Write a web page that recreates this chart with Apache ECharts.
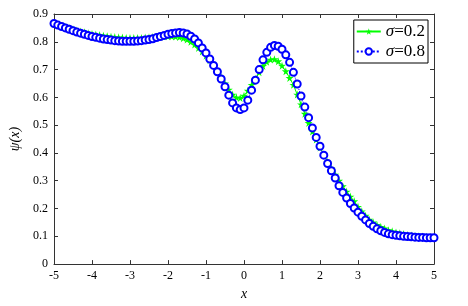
<!DOCTYPE html>
<html>
<head>
<meta charset="utf-8">
<script src="https://cdn.jsdelivr.net/npm/echarts@6/dist/echarts.min.js"></script>
<style>html,body{margin:0;padding:0;background:#fff;}#c{width:468px;height:306px;}</style>
</head>
<body>
<div id="c"></div>
<script>
const xValues = [-5.0,-4.9,-4.8,-4.7,-4.6,-4.5,-4.4,-4.3,-4.2,-4.1,-4.0,-3.9,-3.8,-3.7,-3.6,-3.5,-3.4,-3.3,-3.2,-3.1,-3.0,-2.9,-2.8,-2.7,-2.6,-2.5,-2.4,-2.3,-2.2,-2.1,-2.0,-1.9,-1.8,-1.7,-1.6,-1.5,-1.4,-1.3,-1.2,-1.1,-1.0,-0.9,-0.8,-0.7,-0.6,-0.5,-0.4,-0.3,-0.2,-0.1,0.0,0.1,0.2,0.3,0.4,0.5,0.6,0.7,0.8,0.9,1.0,1.1,1.2,1.3,1.4,1.5,1.6,1.7,1.8,1.9,2.0,2.1,2.2,2.3,2.4,2.5,2.6,2.7,2.8,2.9,3.0,3.1,3.2,3.3,3.4,3.5,3.6,3.7,3.8,3.9,4.0,4.1,4.2,4.3,4.4,4.5,4.6,4.7,4.8,4.9,5.0];
const sigma02 = [0.866,0.861,0.857,0.853,0.849,0.845,0.841,0.837,0.834,0.831,0.828,0.826,0.824,0.822,0.820,0.818,0.817,0.816,0.815,0.814,0.814,0.814,0.814,0.814,0.815,0.816,0.817,0.818,0.819,0.820,0.820,0.820,0.819,0.817,0.813,0.808,0.800,0.790,0.778,0.765,0.750,0.734,0.715,0.694,0.672,0.650,0.628,0.610,0.600,0.598,0.606,0.624,0.645,0.666,0.690,0.713,0.728,0.736,0.737,0.730,0.714,0.694,0.670,0.645,0.610,0.575,0.541,0.508,0.477,0.448,0.420,0.394,0.368,0.344,0.322,0.300,0.280,0.261,0.243,0.226,0.206,0.190,0.174,0.160,0.150,0.141,0.134,0.128,0.122,0.118,0.114,0.111,0.108,0.105,0.103,0.101,0.100,0.099,0.098,0.097,0.096];
const sigma08 = [0.866,0.860,0.855,0.850,0.845,0.840,0.835,0.831,0.827,0.823,0.819,0.816,0.813,0.810,0.808,0.806,0.804,0.803,0.802,0.802,0.802,0.802,0.803,0.804,0.806,0.808,0.811,0.815,0.819,0.823,0.827,0.830,0.832,0.833,0.832,0.828,0.820,0.810,0.796,0.778,0.760,0.738,0.715,0.692,0.666,0.638,0.608,0.580,0.562,0.556,0.562,0.590,0.626,0.662,0.700,0.735,0.762,0.780,0.787,0.784,0.773,0.753,0.726,0.690,0.648,0.605,0.565,0.527,0.490,0.456,0.424,0.392,0.362,0.336,0.310,0.282,0.258,0.238,0.218,0.202,0.187,0.172,0.159,0.146,0.136,0.127,0.120,0.114,0.109,0.106,0.104,0.102,0.100,0.099,0.098,0.097,0.096,0.096,0.095,0.095,0.095];
const seriesNames = ['σ=0.2', 'σ=0.8'];

const star = 'path://M50,0 L61,35 L98,35 L68,57 L79,91 L50,70 L21,91 L32,57 L2,35 L39,35 Z';
const font = 'Liberation Serif';
const axisColor = '#333';
const green = '#00ff00';
const blue = '#0000ff';

const chart = echarts.init(document.getElementById('c'), null, {renderer: 'canvas'});
const pair = ys => xValues.map((x, i) => [x, ys[i]]);

chart.setOption({
  animation: false,
  backgroundColor: '#fff',
  grid: {left: 50, right: 34, top: 14, bottom: 35},
  legend: {
    orient: 'vertical',
    right: 40, top: 20,
    padding: [3, 3, 3, 2],
    itemGap: 3,
    itemWidth: 24, itemHeight: 8,
    borderColor: '#000', borderWidth: 1, borderRadius: 0,
    backgroundColor: '#fff',
    data: seriesNames,
    itemStyle: {borderWidth: 1},
    formatter: n => '{i|σ}{n|' + n.slice(1) + '}',
    textStyle: {
      fontFamily: font, fontSize: 17, color: '#000',
      rich: {
        i: {fontFamily: font, fontSize: 17, fontStyle: 'italic', color: '#000'},
        n: {fontFamily: font, fontSize: 17, color: '#000'}
      }
    }
  },
  xAxis: [{
    type: 'value', min: -5, max: 5, interval: 1,
    name: 'x', nameLocation: 'middle', nameGap: 22,
    nameTextStyle: {fontFamily: font, fontSize: 14, fontStyle: 'italic', color: '#000'},
    axisLine: {onZero: false, lineStyle: {color: axisColor, width: 1}},
    axisTick: {inside: true, length: 4, lineStyle: {color: axisColor}},
    axisLabel: {fontFamily: font, fontSize: 12, color: '#000', margin: 6},
    splitLine: {show: false}
  }, {
    type: 'value', min: -5, max: 5, interval: 1, position: 'top',
    axisLine: {onZero: false, lineStyle: {color: axisColor, width: 1}},
    axisTick: {inside: true, length: 4, lineStyle: {color: axisColor}},
    axisLabel: {show: false}, splitLine: {show: false}
  }],
  yAxis: [{
    type: 'value', min: 0, max: 0.9, interval: 0.1,
    name: 'ψ(x)', nameLocation: 'middle', nameGap: 32, nameRotate: 90,
    nameTextStyle: {fontFamily: font, fontSize: 14, fontStyle: 'italic', color: '#000'},
    axisLine: {show: true, onZero: false, lineStyle: {color: axisColor, width: 1}},
    axisTick: {show: true, inside: true, length: 4, lineStyle: {color: axisColor}},
    axisLabel: {fontFamily: font, fontSize: 12, color: '#000', margin: 6,
      formatter: v => (Math.round(v * 10) / 10).toString()},
    splitLine: {show: false}
  }, {
    type: 'value', min: 0, max: 0.9, interval: 0.1, position: 'right',
    axisLine: {show: true, onZero: false, lineStyle: {color: axisColor, width: 1}},
    axisTick: {show: true, inside: true, length: 4, lineStyle: {color: axisColor}},
    axisLabel: {show: false}, splitLine: {show: false}
  }],
  series: [{
    name: seriesNames[0], type: 'line', data: pair(sigma02),
    symbol: star, symbolSize: 8, showAllSymbol: true,
    lineStyle: {color: green, width: 1},
    itemStyle: {color: green, borderWidth: 0}
  }, {
    name: seriesNames[1], type: 'line', data: pair(sigma08),
    symbol: 'emptyCircle', symbolSize: 7, showAllSymbol: true,
    lineStyle: {color: blue, width: 1, type: 'dotted'},
    itemStyle: {color: blue, borderColor: blue, borderWidth: 0.8}
  }]
});
</script>
</body>
</html>
